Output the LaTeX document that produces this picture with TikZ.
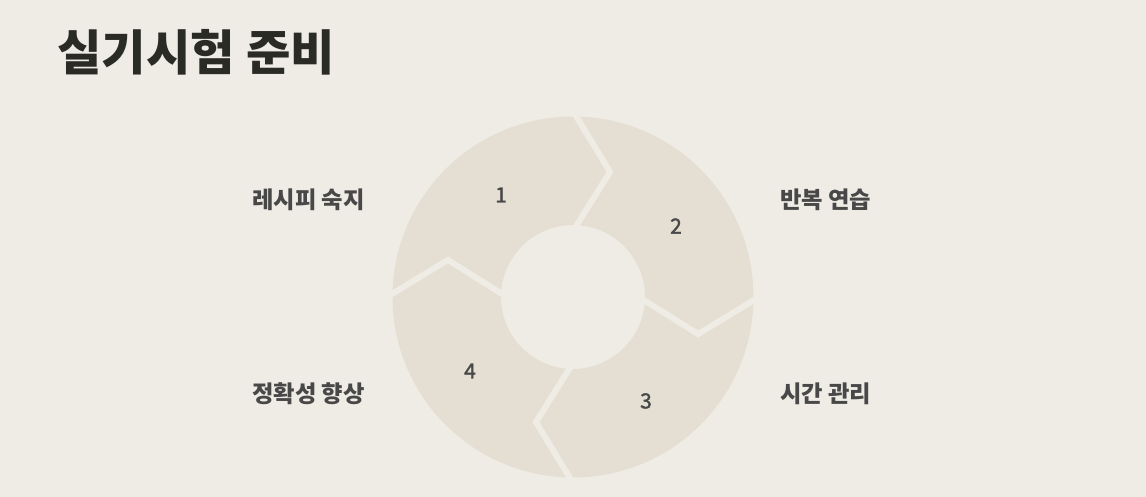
\documentclass[tikz,border=0pt]{standalone}
\usepackage{fontspec}
\usetikzlibrary{calc}
\newfontfamily\kr{Noto Sans CJK KR}
\newfontfamily\krnum[FakeBold=1.6]{Noto Sans CJK KR}
\definecolor{bg}{HTML}{EFECE5}
\definecolor{ring}{HTML}{E4DFD2}
\definecolor{txt}{HTML}{484848}
\definecolor{ttl}{HTML}{2B2B26}
\begin{document}
\begin{tikzpicture}[x=1pt,y=1pt,
  sep/.style={draw=bg,line width=6pt,line join=miter},
  lbl/.style={font=\kr\bfseries\fontsize{23.3}{28}\selectfont,text=txt,inner sep=0pt},
  num/.style={font=\krnum\fontsize{21}{25}\selectfont,text=txt,inner sep=0pt}]
\fill[bg] (0,0) rectangle (1146,497);
\useasboundingbox (0,0) rectangle (1146,497);
\coordinate (c) at (573,200);
% ring
\fill[ring,even odd rule] (c) circle[radius=180.5] (c) circle[radius=72];
% separators (chevrons)
\foreach \a in {90,0,270,180}{
  \draw[sep] ($(c)+(\a:186)$) -- ($(c)+(\a-16.5:130.5)$) -- ($(c)+(\a:66)$);
}
% numbers
\node[num] (n1) at (501,302) {1};
\node[num] (n2) at (676,271) {2};
\node[num] (n3) at (646,96) {3};
\node[num] (n4) at (470,126) {4};
% labels
\node[lbl,anchor=east] (l1) at (365,297) {레시피 숙지};
\node[lbl,anchor=west] (l2) at (780,297) {반복 연습};
\node[lbl,anchor=west] (l3) at (780,103) {시간 관리};
\node[lbl,anchor=east] (l4) at (365,103) {정확성 향상};
% title
\node[font=\kr\bfseries\fontsize{48.3}{57}\selectfont,text=ttl,anchor=west,inner sep=0pt] (title) at (57,445) {실기시험 준비};
\end{tikzpicture}
\end{document}
